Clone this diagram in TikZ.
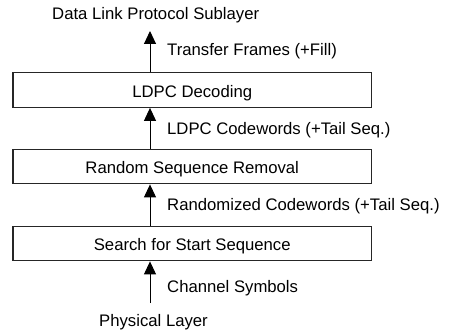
\documentclass[tikz,border=0pt]{standalone}
\usepackage{fontspec}
\setmainfont{Liberation Sans}
\usetikzlibrary{arrows.meta}
\begin{document}
\begin{tikzpicture}[x=1pt,y=-1pt,
  box/.style={draw=black!85,line width=1.3pt,minimum width=358.5pt,minimum height=34.5pt,
    inner sep=0pt,text height=14.4pt,text depth=0pt,font=\fontsize{16.7}{18}\selectfont},
  lbl/.style={anchor=base west,inner sep=0pt,font=\fontsize{16.7}{18}\selectfont},
  arr/.style={line width=1pt,-{Triangle[length=13pt,width=12pt]}}]
\useasboundingbox (0,0) rectangle (452,331);
\node[box] (b1) at (192.25,90) {LDPC Decoding};
\node[box] (b2) at (192.25,166.5) {Random Sequence Removal};
\node[box] (b3) at (192.25,243.5) {Search for Start Sequence};
\coordinate (ax) at (150,0);
\coordinate (tip) at (150,31);
\coordinate (tail) at (150,303);
\node[lbl] (dl) at (52,19.5) {Data Link Protocol Sublayer};
\node[lbl] (l1) at (167,56) {Transfer Frames (+Fill)};
\node[lbl] (l2) at (167,134.3) {LDPC Codewords (+Tail Seq.)};
\node[lbl] (l3) at (167,211) {Randomized Codewords (+Tail Seq.)};
\node[lbl] (l4) at (167,292.7) {Channel Symbols};
\node[lbl] (pl) at (99,326.7) {Physical Layer};
\draw[arr] (b1.north -| ax) -- (tip);
\draw[arr] (b2.north -| ax) -- (b1.south -| ax);
\draw[arr] (b3.north -| ax) -- (b2.south -| ax);
\draw[arr] (tail) -- (b3.south -| ax);
\end{tikzpicture}
\end{document}
